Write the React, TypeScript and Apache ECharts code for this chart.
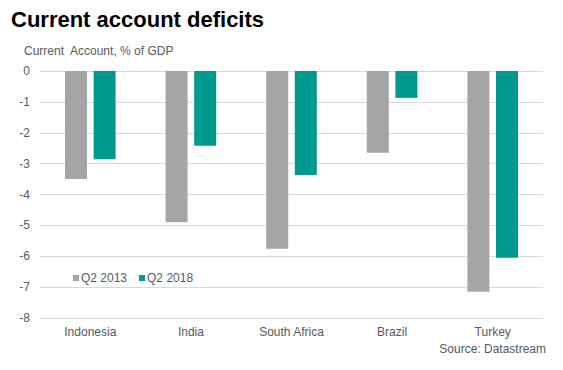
import React, { useEffect, useRef } from "react";
import * as echarts from "echarts";

const categories = ["Indonesia", "India", "South Africa", "Brazil", "Turkey"];
const q22013 = [-3.5, -4.9, -5.76, -2.65, -7.15];
const q22018 = [-2.86, -2.42, -3.37, -0.87, -6.05];
const seriesNames = ["Q2 2013", "Q2 2018"];

export default function App() {
  const ref = useRef<HTMLDivElement>(null);
  useEffect(() => {
    const chart = echarts.init(ref.current!, undefined, { renderer: "svg" });
    const font = "'Liberation Sans', Arial, sans-serif";
    chart.setOption({
      animation: false,
      backgroundColor: "#ffffff",
      title: [
        {
          text: "Current account deficits",
          left: 6,
          top: 3,
          textStyle: { fontFamily: font, fontWeight: "bold", fontSize: 22, color: "#000" },
        },
        {
          text: "Current  Account, % of GDP",
          left: 19,
          top: 40,
          textStyle: { fontFamily: font, fontWeight: "normal", fontSize: 12, color: "#595959" },
        },
        {
          text: "Source: Datastream",
          right: 12,
          top: 338,
          textStyle: { fontFamily: font, fontWeight: "normal", fontSize: 12, color: "#595959" },
        },
      ],
      legend: {
        left: 68,
        top: 267,
        itemWidth: 6,
        itemHeight: 6,
        itemGap: 12,
        icon: "rect",
        textStyle: { fontFamily: font, fontSize: 12, color: "#595959", padding: [0, 0, 0, -3] },
        data: seriesNames,
      },
      grid: { left: 40, right: 20, top: 71, bottom: 52, containLabel: false },
      xAxis: {
        type: "category",
        data: categories,
        position: "bottom",
        axisLine: { show: false },
        axisTick: { show: false },
        axisLabel: { fontFamily: font, fontSize: 12, color: "#595959", margin: 8 },
      },
      yAxis: {
        type: "value",
        min: -8,
        max: 0,
        interval: 1,
        axisLine: { show: false },
        axisTick: { show: false },
        splitLine: { lineStyle: { color: "#d9d9d9", width: 1 } },
        axisLabel: { fontFamily: font, fontSize: 12, color: "#595959", margin: 10 },
      },
      series: [
        {
          name: seriesNames[0],
          type: "bar",
          data: q22013,
          barWidth: 22,
          barGap: "30%",
          itemStyle: { color: "#a5a5a5" },
        },
        {
          name: seriesNames[1],
          type: "bar",
          data: q22018,
          barWidth: 22,
          itemStyle: { color: "#00998f" },
        },
      ],
    });
    return () => chart.dispose();
  }, []);
  return <div ref={ref} style={{ width: 563, height: 370, position: "absolute", left: 0, top: 0 }} />;
}
